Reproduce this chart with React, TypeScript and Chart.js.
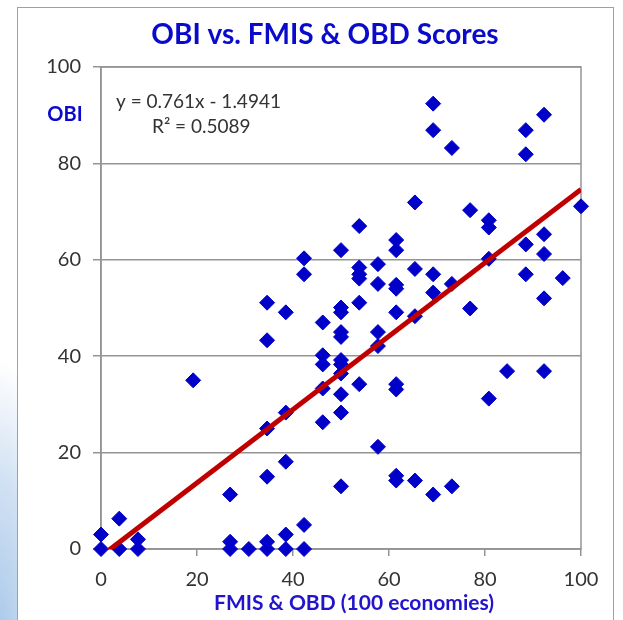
import React, { useEffect, useRef } from "react";
import { Chart, registerables } from "chart.js";

Chart.register(...registerables);

// FMIS & OBD score (x) and OBI score (y) for each economy
const fmisScores = [
  0, 0,
  3.8, 3.8,
  7.7, 7.7,
  19.2,
  26.9, 26.9, 26.9,
  30.8,
  34.6, 34.6, 34.6, 34.6, 34.6, 34.6,
  38.5, 38.5, 38.5, 38.5, 38.5,
  42.3, 42.3, 42.3, 42.3,
  46.2, 46.2, 46.2, 46.2, 46.2,
  50, 50, 50, 50, 50, 50, 50, 50, 50, 50, 50,
  53.8, 53.8, 53.8, 53.8, 53.8, 53.8,
  57.7, 57.7, 57.7, 57.7, 57.7,
  61.5, 61.5, 61.5, 61.5, 61.5, 61.5, 61.5, 61.5, 61.5,
  65.4, 65.4, 65.4, 65.4,
  69.2, 69.2, 69.2, 69.2, 69.2,
  73.1, 73.1, 73.1,
  76.9, 76.9,
  80.8, 80.8, 80.8, 80.8,
  84.6,
  88.5, 88.5, 88.5, 88.5,
  92.3, 92.3, 92.3, 92.3, 92.3,
  96.2,
  100,
];
const obiScores = [
  3.0, 0,
  6.3, 0,
  2.0, 0,
  35.0,
  11.3, 1.5, 0,
  0,
  51.1, 43.3, 25.0, 15.0, 1.5, 0,
  49.1, 28.3, 18.1, 3.0, 0,
  60.3, 57.0, 5.0, 0,
  47.0, 40.2, 38.3, 33.3, 26.3,
  62.0, 50.1, 49.1, 45.0, 44.0, 39.2, 38.3, 36.4, 32.1, 28.3, 13.0,
  67.0, 58.4, 57.0, 56.1, 51.1, 34.2,
  59.1, 55.0, 45.0, 42.1, 21.2,
  64.1, 62.0, 54.8, 54.0, 49.1, 34.2, 33.1, 15.2, 14.2,
  71.9, 58.1, 48.3, 14.2,
  92.4, 86.9, 57.0, 53.2, 11.3,
  83.2, 55.0, 13.0,
  70.3, 49.9,
  68.2, 66.7, 60.2, 31.2,
  36.9,
  86.9, 81.9, 63.2, 57.0,
  90.1, 65.3, 61.2, 52.0, 36.9,
  56.2,
  71.1,
];

// Linear trend line shown on the chart: y = 0.761x - 1.4941, R² = 0.5089
const trendSlope = 0.761;
const trendIntercept = -1.4941;
const trendXs = [0, 100];

const xTicks = [0, 20, 40, 60, 80, 100];
const yTicks = [0, 20, 40, 60, 80, 100];

const titleText = "OBI vs. FMIS & OBD Scores";
const xTitleText = "FMIS & OBD (100 economies)";
const yTitleText = "OBI";
const equationText = "y = 0.761x - 1.4941";
const r2Text = "R² = 0.5089";

const FONT = "Lato, 'Open Sans', sans-serif";

export default function App() {
  const canvasRef = useRef<HTMLCanvasElement | null>(null);

  useEffect(() => {
    const canvas = canvasRef.current;
    if (!canvas) return;

    const points = fmisScores.map((x, i) => ({ x, y: obiScores[i] }));
    const trend = trendXs.map((x) => ({ x, y: trendSlope * x + trendIntercept }));

    const textPlugin = {
      id: "texts",
      beforeDatasetsDraw(chart: any) {
        const { ctx, chartArea } = chart;
        ctx.save();
        ctx.strokeStyle = "#949494";
        ctx.lineWidth = 1.5;
        ctx.strokeRect(chartArea.left, chartArea.top, chartArea.right - chartArea.left, chartArea.bottom - chartArea.top);
        ctx.restore();
      },
      afterDraw(chart: any) {
        const { ctx } = chart;
        ctx.save();
        ctx.textBaseline = "middle";
        ctx.fillStyle = "#0a0acc";
        ctx.textAlign = "center";
        ctx.font = `bold 28px ${FONT}`;
        ctx.fillText(titleText, 325, 35);
        ctx.font = `bold 20px ${FONT}`;
        ctx.fillText(yTitleText, 65, 115);
        ctx.fillStyle = "#2214cc";
        ctx.font = `bold 21px ${FONT}`;
        ctx.fillText(xTitleText, 354, 603);
        ctx.fillStyle = "#333333";
        ctx.textAlign = "left";
        ctx.font = `19px ${FONT}`;
        ctx.fillText(equationText, 116, 102);
        ctx.fillText(r2Text, 152, 127);
        ctx.restore();
      },
    };

    const chart = new Chart(canvas, {
      type: "scatter",
      data: {
        datasets: [
          {
            type: "line",
            label: "Trend",
            data: trend,
            borderColor: "#c00000",
            borderWidth: 5,
            pointRadius: 0,
            fill: false,
            order: 0,
            clip: 0,
          } as any,
          {
            label: "Economies",
            data: points,
            pointStyle: "rectRot",
            pointRadius: 7.5,
            pointBorderWidth: 1,
            backgroundColor: "#0000c8",
            borderColor: "#0000c8",
            order: 1,
            clip: false,
          } as any,
        ],
      },
      options: {
        responsive: false,
        animation: false,
        events: [],
        layout: { padding: { left: 0, top: 67, right: 42, bottom: 21 } },
        plugins: { legend: { display: false }, tooltip: { enabled: false }, title: { display: false } },
        scales: {
          x: {
            type: "linear",
            min: 0,
            max: 100,
            afterBuildTicks: (scale: any) => {
              scale.ticks = xTicks.map((v) => ({ value: v }));
            },
            afterFit: (scale: any) => {
              scale.height = 50;
            },
            ticks: {
              color: "#333333",
              font: { family: FONT, size: 20 },
              padding: 12,
              maxRotation: 0,
            },
            grid: {
              drawOnChartArea: false,
              drawTicks: true,
              tickLength: 7,
              color: "#949494",
              lineWidth: 1.5,
            },
            border: { display: true, color: "#949494", width: 1.5 },
          },
          y: {
            type: "linear",
            min: 0,
            max: 100,
            afterBuildTicks: (scale: any) => {
              scale.ticks = yTicks.map((v) => ({ value: v }));
            },
            afterFit: (scale: any) => {
              scale.width = 101;
            },
            ticks: {
              color: "#333333",
              font: { family: FONT, size: 20 },
              padding: 12,
            },
            grid: {
              drawTicks: true,
              tickLength: 8,
              color: "#949494",
              lineWidth: 1.5,
            },
            border: { display: true, color: "#949494", width: 1.5 },
          },
        },
      },
      plugins: [textPlugin],
    } as any);

    return () => chart.destroy();
  }, []);

  return (
    <div style={{ position: "fixed", left: 0, top: 0, width: 623, height: 620, overflow: "hidden", background: "#ffffff" }}>
      <div
        style={{
          position: "absolute",
          left: 0,
          top: 0,
          width: 623,
          height: 620,
          background: "radial-gradient(ellipse 60px 280px at 0px 640px, #a9c8ea 0%, #cfe0f3 55%, rgba(255,255,255,0) 100%)",
        }}
      />
      <div
        style={{
          position: "absolute",
          left: 17,
          top: 7,
          width: 597,
          height: 640,
          background: "#ffffff",
          border: "1.5px solid #a0a0a0",
          boxSizing: "border-box",
        }}
      />
      <canvas ref={canvasRef} width={623} height={620} style={{ position: "absolute", left: 0, top: 0, width: 623, height: 620 }} />
    </div>
  );
}
